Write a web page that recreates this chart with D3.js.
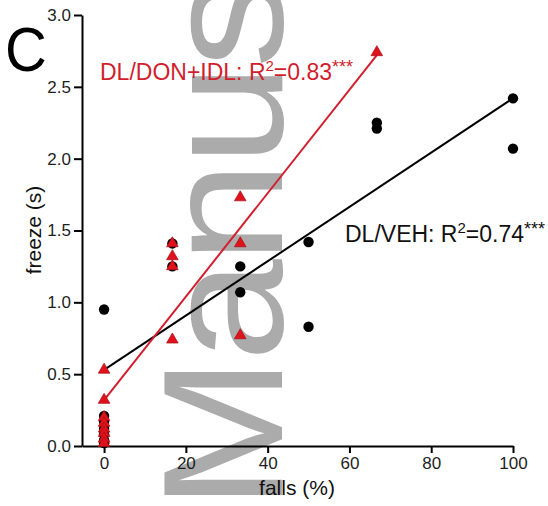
<!DOCTYPE html>
<html>
<head>
<meta charset="utf-8">
<script src="https://cdn.jsdelivr.net/npm/d3@7"></script>
<style>
  html, body { margin: 0; padding: 0; background: #fff; }
  svg { display: block; }
  text { font-family: "Liberation Sans", Arial, Helvetica, sans-serif; }
</style>
</head>
<body>
<svg id="chart" width="548" height="506"></svg>
<script>
// Falls (%) vs freeze (s), two groups with linear fits
const xTicks = [0, 20, 40, 60, 80, 100];
const yTicks = [0, 0.5, 1.0, 1.5, 2.0, 2.5, 3.0];

// DL/VEH group (black circles)
const vehFalls  = [0, 0, 0, 0, 0, 0, 0, 16.7, 16.7, 33.3, 33.3, 50, 50, 66.7, 66.7, 100, 100];
const vehFreeze = [0.95, 0.21, 0.17, 0.12, 0.08, 0.04, 0.02, 1.41, 1.25, 1.25, 1.07, 1.42, 0.83, 2.25, 2.21, 2.42, 2.07];

// DL/DON+IDL group (red triangles)
const donFalls  = [0, 0, 0, 0, 0, 0, 0, 0, 16.7, 16.7, 16.7, 16.7, 33.3, 33.3, 33.3, 66.7];
const donFreeze = [0.53, 0.32, 0.20, 0.16, 0.12, 0.09, 0.05, 0.02, 1.41, 1.32, 1.25, 0.74, 1.73, 1.41, 0.77, 2.74];

// Fitted regression lines (endpoints)
const vehFitX = [0, 100];
const vehFitY = [0.53, 2.42];
const donFitX = [0, 66.7];
const donFitY = [0.32, 2.72];

const vehLabel = { name: "DL/VEH: R", sup: "2", r2: "=0.74", stars: "***" };
const donLabel = { name: "DL/DON+IDL: R", sup: "2", r2: "=0.83", stars: "***" };

const RED = "#e0121c";
const RED_LINE = "#d21f2f";
const RED_TEXT = "#d11e2d";

const svg = d3.select("#chart");
svg.append("rect").attr("width", 548).attr("height", 506).attr("fill", "#fff");

// Watermark behind the plot
svg.append("text")
  .attr("transform", "translate(282,510) rotate(-90) scale(1.08,1)")
  .attr("font-size", 170)
  .attr("letter-spacing", -4)
  .attr("fill", "#ababab")
  .text("Manuscript");

const x = d3.scaleLinear().domain([-5.4, 100]).range([82, 513]);
const y = d3.scaleLinear().domain([0, 3]).range([446, 15]);

// Axes
const gx = svg.append("g").attr("transform", `translate(0,${y(0)})`)
  .call(d3.axisBottom(x).tickValues(xTicks).tickSize(7).tickSizeOuter(0).tickPadding(4));
const gy = svg.append("g").attr("transform", `translate(${x(-5.4)},0)`)
  .call(d3.axisLeft(y).tickValues(yTicks).tickFormat(d3.format(".1f")).tickSize(8).tickSizeOuter(0).tickPadding(3));

[gx, gy].forEach(g => {
  g.select(".domain").attr("stroke", "#000").attr("stroke-width", 2);
  g.selectAll(".tick line").attr("stroke", "#000").attr("stroke-width", 2);
  g.selectAll(".tick text").attr("fill", "#1e1e1e").attr("font-size", 17)
    .attr("font-family", "'Liberation Sans', Arial, sans-serif");
});

// Axis titles
svg.append("text")
  .attr("x", 297).attr("y", 495)
  .attr("text-anchor", "middle")
  .attr("font-size", 21).attr("fill", "#111")
  .text("falls (%)");
svg.append("text")
  .attr("transform", "translate(41,230) rotate(-90)")
  .attr("text-anchor", "middle")
  .attr("font-size", 21).attr("fill", "#111")
  .text("freeze (s)");

// Panel letter
svg.append("text")
  .attr("transform", "translate(5,71) scale(0.92,1)")
  .attr("font-size", 63).attr("fill", "#000")
  .text("C");

// Regression lines
const line = d3.line().x(d => x(d[0])).y(d => y(d[1]));
svg.append("path")
  .datum(vehFitX.map((v, i) => [v, vehFitY[i]]))
  .attr("d", line).attr("fill", "none").attr("stroke", "#000").attr("stroke-width", 2);
svg.append("path")
  .datum(donFitX.map((v, i) => [v, donFitY[i]]))
  .attr("d", line).attr("fill", "none").attr("stroke", RED_LINE).attr("stroke-width", 2);

// Points: circles first, triangles on top
svg.append("g").selectAll("circle")
  .data(vehFalls.map((v, i) => [v, vehFreeze[i]]))
  .join("circle")
  .attr("cx", d => x(d[0])).attr("cy", d => y(d[1]))
  .attr("r", 5.2).attr("fill", "#000");

const tri = d3.symbol().type(d3.symbolTriangle).size(58);
svg.append("g").selectAll("path")
  .data(donFalls.map((v, i) => [v, donFreeze[i]]))
  .join("path")
  .attr("transform", d => `translate(${x(d[0])},${y(d[1])})`)
  .attr("d", tri)
  .attr("fill", RED).attr("stroke", "#a80c12").attr("stroke-width", 0.7);

// Fit labels with superscripts
function fitLabel(lbl, px, py, color) {
  const t = svg.append("text").attr("x", px).attr("y", py)
    .attr("font-size", 23).attr("fill", color);
  t.append("tspan").text(lbl.name);
  t.append("tspan").attr("font-size", 15).attr("dy", -9).text(lbl.sup);
  t.append("tspan").attr("dy", 9).text(lbl.r2);
  t.append("tspan").attr("font-size", 18).attr("dy", -7).text(lbl.stars);
}
fitLabel(donLabel, 100, 80, RED_TEXT);
fitLabel(vehLabel, 345, 242, "#111");
</script>
</body>
</html>
